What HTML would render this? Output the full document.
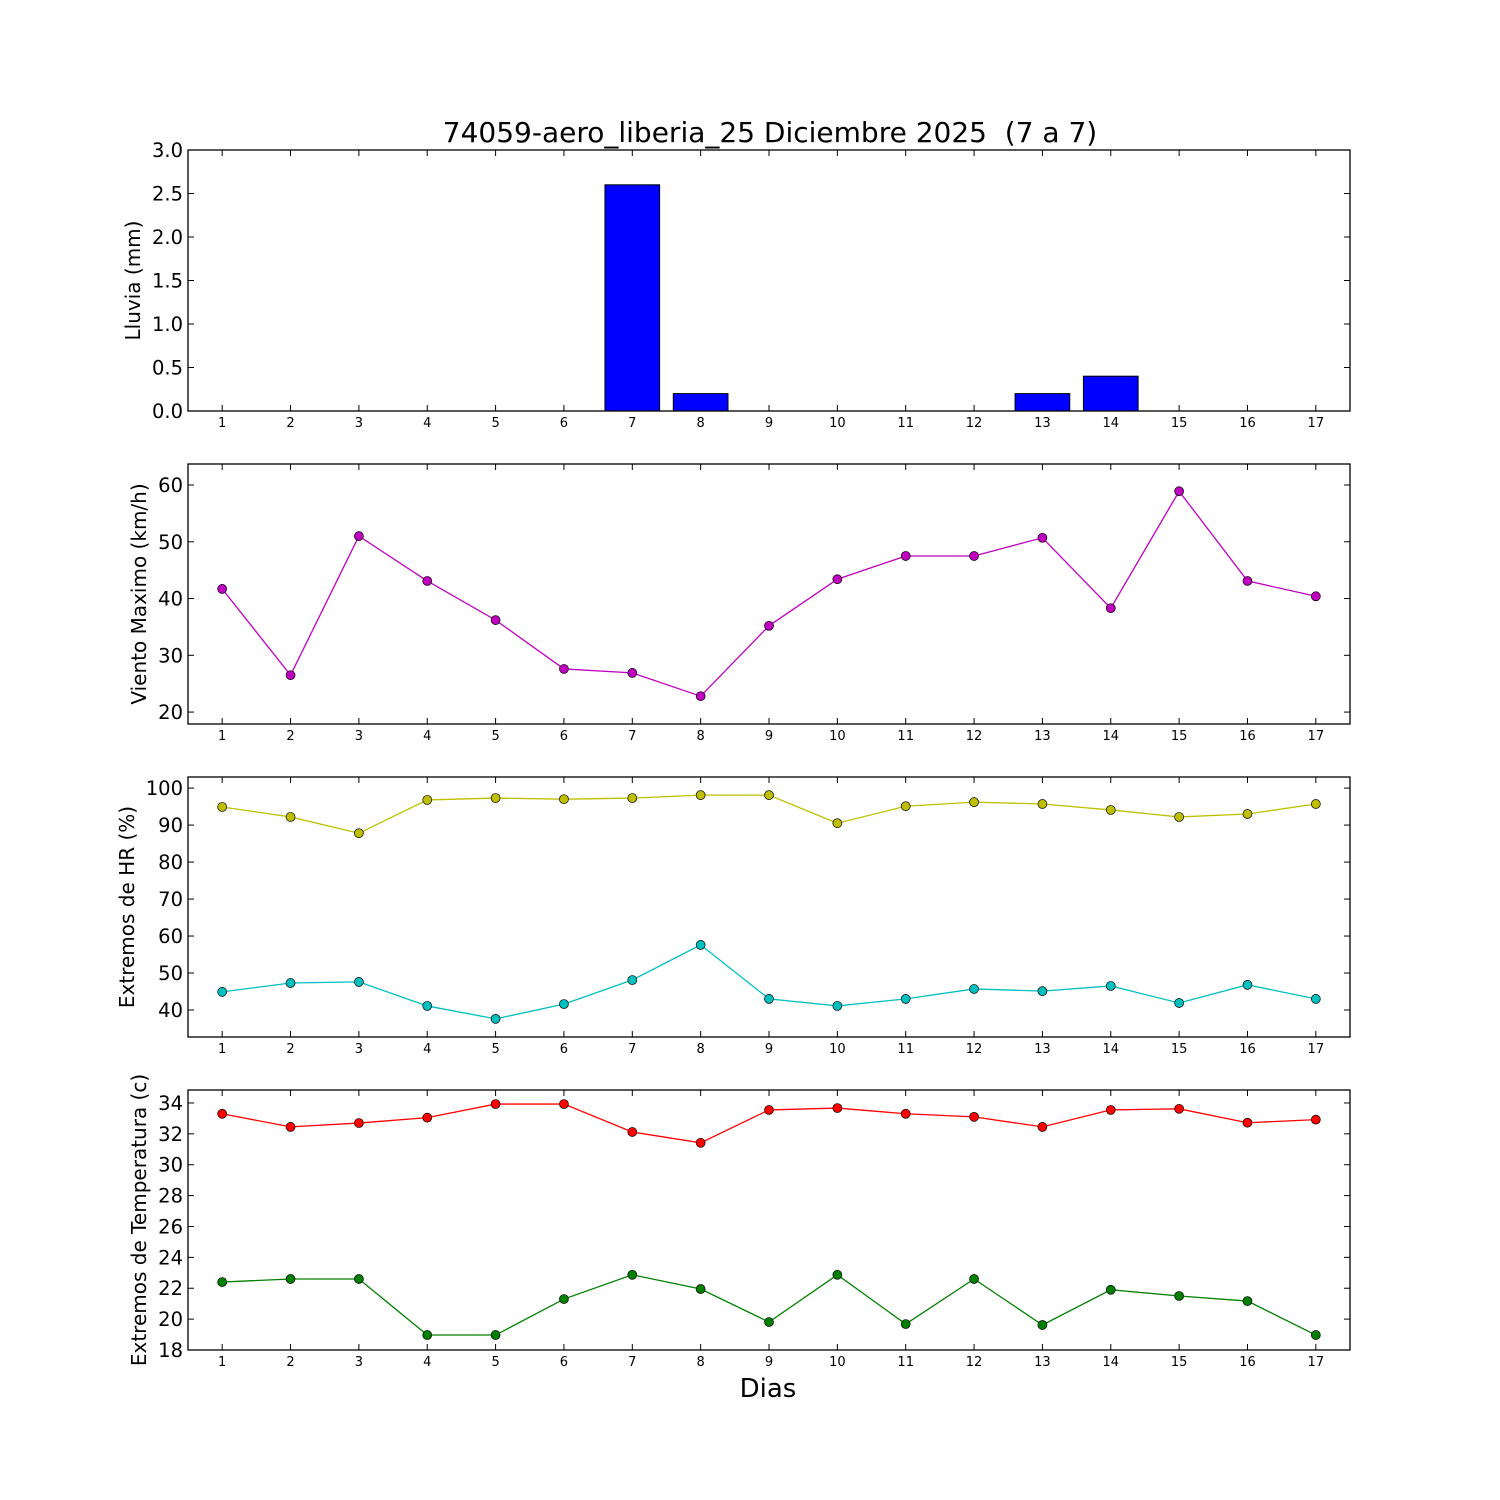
<!DOCTYPE html>
<html><head><meta charset="utf-8">
<style>
html,body{margin:0;padding:0;background:#fff;}
svg{display:block;font-family:"DejaVu Sans","Liberation Sans",sans-serif;}
</style></head>
<body>
<svg id="chart" width="1500" height="1500" viewBox="0 0 1500 1500" xmlns="http://www.w3.org/2000/svg">
<rect width="1500" height="1500" fill="#fff"/>
<text x="770" y="142" font-size="28" text-anchor="middle" xml:space="preserve" style="white-space:pre">74059-aero_liberia_25 Diciembre 2025  (7 a 7)</text>
<text x="768" y="1397" font-size="26" text-anchor="middle">Dias</text>
</svg>
<script>
const days = [1,2,3,4,5,6,7,8,9,10,11,12,13,14,15,16,17];
const rain = [0,0,0,0,0,0,2.6,0.2,0,0,0,0,0.2,0.4,0,0,0];
const wind = [41.7,26.5,51.0,43.1,36.2,27.6,26.9,22.8,35.2,43.4,47.5,47.5,50.7,38.3,58.9,43.1,40.4];
const hrMax = [94.9,92.2,87.8,96.8,97.3,97.0,97.3,98.1,98.1,90.5,95.1,96.2,95.7,94.1,92.2,93.0,95.7];
const hrMin = [44.9,47.3,47.6,41.1,37.6,41.6,48.1,57.6,43.0,41.1,43.0,45.7,45.1,46.5,41.9,46.8,43.0];
const tMax = [33.3,32.45,32.7,33.05,33.93,33.93,32.12,31.42,33.55,33.67,33.3,33.1,32.45,33.55,33.62,32.72,32.92];
const tMin = [22.4,22.6,22.6,18.97,18.97,21.3,22.87,21.95,19.81,22.87,19.68,22.6,19.62,21.9,21.5,21.17,18.97];
const rainTicks = ["0.0","0.5","1.0","1.5","2.0","2.5","3.0"];
const windTicks = [20,30,40,50,60];
const hrTicks = [40,50,60,70,80,90,100];
const tTicks = [18,20,22,24,26,28,30,32,34];

const NS="http://www.w3.org/2000/svg";
const svg=document.getElementById('chart');
const L=188,R=1350;
const xs=d=>L+(d-0.5)*(R-L)/17;
function el(tag,attrs,parent){const e=document.createElementNS(NS,tag);for(const k in attrs)e.setAttribute(k,attrs[k]);(parent||svg).appendChild(e);return e;}

function panel(name,top,bot,ymin,ymax,ticks,label,lx){
  const g=el('g',{});
  
  
  const ys=v=>bot-(v-ymin)/(ymax-ymin)*(bot-top);
  const ly=(top+bot)/2;
  const t=el('text',{x:lx,y:ly,'font-size':20,'text-anchor':'middle',transform:`rotate(-90 ${lx} ${ly})`},g);
  t.textContent=label;
  
  
  ticks.forEach(tv=>{
    const v=parseFloat(tv);const y=ys(v);
    el('line',{x1:L,x2:L+6,y1:y,y2:y,stroke:'#000','stroke-width':1},g);
    el('line',{x1:R,x2:R-6,y1:y,y2:y,stroke:'#000','stroke-width':1},g);
    const tt=el('text',{x:L-5,y:y+7,'font-size':19.5,'text-anchor':'end'},g);
    tt.textContent=tv;
    
    
  });
  days.forEach(d=>{
    const x=xs(d);
    el('line',{x1:x,x2:x,y1:bot,y2:bot-6,stroke:'#000','stroke-width':1},g);
    el('line',{x1:x,x2:x,y1:top,y2:top+6,stroke:'#000','stroke-width':1},g);
    const tt=el('text',{x:x,y:bot+16,'font-size':13,'text-anchor':'middle'},g);
    tt.textContent=d;
    
    
  });
  return {g,ys,top,bot};
}
function frame(p){el('rect',{x:L,y:p.top,width:R-L,height:p.bot-p.top,fill:'none',stroke:'#000','stroke-width':1.3},p.g);}
function series(p,vals,color,name){
  const pts=vals.map((v,i)=>xs(days[i])+','+p.ys(v)).join(' ');
  const pl=el('polyline',{points:pts,fill:'none',stroke:color,'stroke-width':1.3},p.g);
  
  
  vals.forEach((v,i)=>{
    const c=el('circle',{cx:xs(days[i]),cy:p.ys(v),r:4.5,fill:color,stroke:'#000','stroke-width':0.7},p.g);
    
    
  });
}

const p1=panel('rain',150,411,0,3,rainTicks,'Lluvia (mm)',140);
const bw=(R-L)/17*0.8;
rain.forEach((v,i)=>{
  const x=xs(days[i])-bw/2;
  const r=el('rect',{x:x,y:p1.ys(v),width:bw,height:Math.max(0,p1.bot-p1.ys(v)),fill:'#0000ff',stroke:'#000','stroke-width':1},p1.g);
  
  
});
frame(p1);

const p2=panel('wind',464,724,17.9,63.7,windTicks,'Viento Maximo (km/h)',146);
series(p2,wind,'#bf00bf','wind-max');frame(p2);

const p3=panel('humidity',777,1037,32.7,103,hrTicks,'Extremos de HR (%)',134);
series(p3,hrMax,'#bfbf00','hr-max');series(p3,hrMin,'#00bfbf','hr-min');frame(p3);

const p4=panel('temperature',1090,1350,18,34.84,tTicks,'Extremos de Temperatura (c)',146);
series(p4,tMax,'#ff0000','temp-max');series(p4,tMin,'#008000','temp-min');frame(p4);
</script>
</body></html>
